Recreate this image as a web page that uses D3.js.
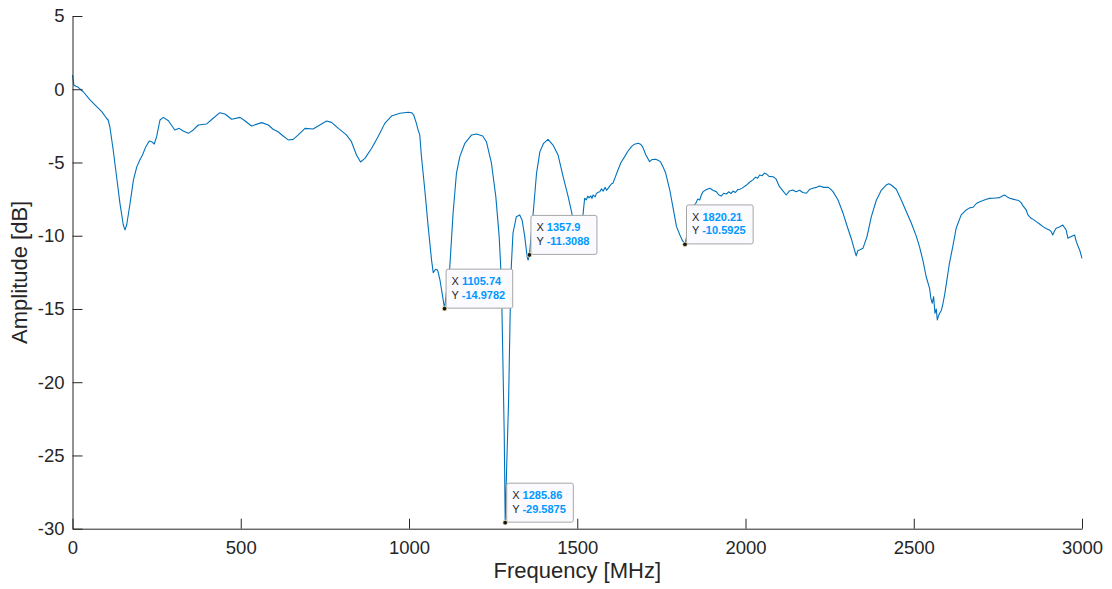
<!DOCTYPE html>
<html>
<head>
<meta charset="utf-8">
<script src="https://cdn.jsdelivr.net/npm/d3@7"></script>
<style>
  html, body { margin: 0; padding: 0; background: #ffffff; }
  svg { display: block; font-family: "Liberation Sans", Arial, Helvetica, sans-serif; }
</style>
</head>
<body>
<svg id="chart" width="1112" height="589"></svg>
<script>
// Measured frequency response (MHz, dB)
const freqMHz = [
  0, 4, 10, 17, 32, 52, 72, 87, 101, 106, 111, 121, 131, 141, 151, 156, 161, 171, 181, 191,
  200, 208, 218, 228, 235, 243, 250, 260, 270, 285, 304, 317, 329, 344, 359, 374, 399, 418, 438, 453,
  473, 498, 512, 532, 562, 582, 596, 611, 626, 641, 656, 671, 691, 715, 735, 755, 770, 790, 814, 829,
  844, 856, 869, 889, 908, 928, 948, 973, 998, 1008, 1014, 1022, 1027, 1032, 1037, 1047, 1057, 1067, 1072, 1079,
  1085, 1092, 1100, 1105.74, 1113, 1121, 1131, 1141, 1151, 1166, 1186, 1201, 1219, 1230, 1245, 1258, 1268, 1273, 1276, 1283,
  1285.86, 1290, 1296, 1301, 1304, 1309, 1319, 1329, 1336, 1344, 1351, 1354, 1357.9, 1369, 1379, 1389, 1400, 1413, 1428, 1443,
  1458, 1473, 1485, 1495, 1505, 1512, 1517, 1522, 1527, 1531, 1535, 1540, 1544, 1547, 1553, 1557, 1560, 1567, 1572, 1577,
  1583, 1587, 1590, 1597, 1602, 1606, 1613, 1621, 1630, 1641, 1650, 1661, 1670, 1681, 1688, 1694, 1704, 1715, 1722, 1733,
  1740, 1747, 1755, 1763, 1775, 1785, 1795, 1805, 1812, 1820.21, 1829, 1836, 1844, 1852, 1858, 1864, 1869, 1874, 1884, 1894,
  1903, 1913, 1920, 1928, 1935, 1943, 1950, 1957, 1963, 1970, 1977, 1983, 1990, 2003, 2012, 2022, 2030, 2036, 2042, 2050,
  2056, 2062, 2070, 2082, 2090, 2101, 2110, 2121, 2130, 2141, 2150, 2161, 2170, 2181, 2190, 2200, 2210, 2220, 2232, 2245,
  2252, 2260, 2275, 2290, 2304, 2314, 2321, 2329, 2334, 2339, 2349, 2361, 2374, 2389, 2404, 2418, 2426, 2433, 2448, 2463,
  2478, 2493, 2508, 2517, 2527, 2537, 2547, 2551, 2555, 2559, 2563, 2567, 2570, 2573, 2577, 2582, 2587, 2592, 2597, 2606,
  2616, 2626, 2641, 2656, 2666, 2676, 2686, 2696, 2706, 2716, 2725, 2735, 2745, 2755, 2762, 2770, 2778, 2785, 2795, 2805,
  2812, 2819, 2826, 2834, 2840, 2849, 2856, 2864, 2874, 2884, 2893, 2903, 2908, 2913, 2918, 2923, 2933, 2943, 2948, 2953,
  2958, 2963, 2968, 2973, 2978, 2983, 2988, 2993, 3000
];
const amplitudeDb = [
  0.97, 0.29, 0.2, 0.13, -0.17, -0.73, -1.19, -1.53, -1.98, -2.1, -2.56, -4.15, -5.97, -7.79, -9.27, -9.6, -9.27, -7.8, -6.2, -5.3,
  -4.83, -4.49, -3.92, -3.53, -3.58, -3.74, -3.24, -2.1, -1.92, -2.15, -2.78, -2.67, -2.85, -3.01, -2.78, -2.44, -2.37, -1.98, -1.6, -1.69,
  -2.05, -1.92, -2.15, -2.51, -2.28, -2.44, -2.73, -2.9, -3.19, -3.46, -3.42, -3.12, -2.67, -2.71, -2.44, -2.17, -2.26, -2.67, -3.12, -3.58,
  -4.49, -4.97, -4.72, -4.03, -3.24, -2.33, -1.83, -1.64, -1.57, -1.6, -1.76, -2.33, -2.78, -3.12, -4.6, -6.88, -9.38, -11.66, -12.52, -12.29,
  -12.34, -13.02, -14.16, -14.9782, -13.48, -12.2, -8.47, -5.74, -4.6, -3.69, -3.12, -3.05, -3.19, -3.58, -5.05, -7.33, -10.06, -12.34, -14.8, -23.5,
  -29.5875, -26, -21.2, -14.84, -12.1, -9.83, -8.7, -8.58, -8.92, -10.06, -11.43, -11.66, -11.3088, -8.47, -5.74, -4.26, -3.69, -3.42, -3.81, -4.49,
  -5.97, -7.33, -8.58, -9.4, -9.6, -9.0, -8.58, -7.44, -7.55, -7.3, -7.42, -7.28, -7.45, -7.22, -7.35, -7.12, -7.05, -7.0, -6.8, -6.95,
  -6.7, -6.9, -6.82, -6.6, -6.45, -6.42, -6.0, -5.51, -5.0, -4.6, -4.25, -3.92, -3.75, -3.69, -3.75, -3.92, -4.49, -4.94, -4.8, -4.78,
  -4.85, -4.94, -5.3, -5.74, -6.88, -8.13, -9.38, -9.95, -10.3, -10.5925, -9.61, -8.6, -8.02, -7.8, -7.5, -7.56, -7.2, -6.99, -6.85, -6.76,
  -6.9, -6.99, -7.2, -7.29, -7.1, -7.15, -7.0, -7.12, -6.95, -7.05, -6.85, -6.83, -6.75, -6.54, -6.35, -6.19, -6.0, -6.08, -5.85, -5.9,
  -5.72, -5.78, -5.95, -5.97, -6.1, -6.65, -6.9, -7.22, -6.95, -6.88, -7.0, -6.9, -7.05, -7.1, -6.85, -6.76, -6.7, -6.6, -6.7, -6.69,
  -6.8, -6.99, -7.56, -8.47, -9.49, -10.17, -10.75, -11.38, -11.0, -10.97, -10.86, -10.06, -8.7, -7.56, -6.88, -6.54, -6.45, -6.54, -6.83, -7.56,
  -8.36, -9.15, -10.06, -10.75, -11.66, -12.8, -13.59, -14.3, -14.61, -14.16, -15.29, -15.0, -15.75, -15.5, -15.29, -15.1, -14.61, -14.0, -13.25, -11.88,
  -10.75, -9.49, -8.58, -8.24, -8.1, -8.06, -7.8, -7.68, -7.6, -7.51, -7.45, -7.44, -7.42, -7.4, -7.3, -7.22, -7.35, -7.44, -7.5, -7.56,
  -7.6, -7.74, -8.0, -8.24, -8.6, -8.81, -8.9, -9.04, -9.2, -9.38, -9.5, -9.61, -9.7, -9.95, -9.7, -9.49, -9.4, -9.27, -9.45, -9.61,
  -10.17, -10.1, -10.06, -10.0, -9.95, -10.4, -10.7, -10.97, -11.54
];

// Axis ticks
const xTicks = [0, 500, 1000, 1500, 2000, 2500, 3000];
const yTicks = [5, 0, -5, -10, -15, -20, -25, -30];

// Data tips
const tipFreq = [1105.74, 1357.9, 1285.86, 1820.21];
const tipAmp = [-14.9782, -11.3088, -29.5875, -10.5925];

const svg = d3.select("#chart");
const axisColor = "#262626";
const lineColor = "#0072bd";

const x = d3.scaleLinear().domain([0, 3000]).range([72.5, 1082]);
const y = d3.scaleLinear().domain([-30, 5]).range([528.7, 16]);

// Curve
const pts = freqMHz.map((f, i) => [f, amplitudeDb[i]]);
svg.append("path")
  .datum(pts)
  .attr("fill", "none")
  .attr("stroke", lineColor)
  .attr("stroke-width", 1.1)
  .attr("stroke-linejoin", "round")
  .attr("d", d3.line().x(d => x(d[0])).y(d => y(d[1])));

// Axes (ticks pointing inward)
const fmt = d => String(d);
const xAxis = svg.append("g")
  .attr("transform", `translate(0,${y(-30)})`)
  .call(d3.axisBottom(x).tickValues(xTicks).tickFormat(fmt).tickSizeInner(-10).tickSizeOuter(0).tickPadding(18));
const yAxis = svg.append("g")
  .attr("transform", `translate(${x(0)},0)`)
  .call(d3.axisLeft(y).tickValues(yTicks).tickFormat(fmt).tickSizeInner(-10).tickSizeOuter(0).tickPadding(18));

[xAxis, yAxis].forEach(g => {
  g.select(".domain").attr("stroke", axisColor).attr("stroke-width", 1);
  g.selectAll(".tick line").attr("stroke", axisColor).attr("stroke-width", 1);
  g.selectAll(".tick text").attr("fill", axisColor).attr("font-size", "18.5px")
    .attr("font-family", "Liberation Sans, Arial, sans-serif");
});
xAxis.selectAll(".tick text").attr("y", 12).attr("dy", "0.71em");
yAxis.selectAll(".tick text").attr("x", -8);

// Axis titles
svg.append("text")
  .attr("x", (x(0) + x(3000)) / 2).attr("y", 578)
  .attr("text-anchor", "middle").attr("fill", axisColor).attr("font-size", "22px")
  .text("Frequency [MHz]");
svg.append("text")
  .attr("transform", `translate(27,${(y(5) + y(-30)) / 2}) rotate(-90)`)
  .attr("text-anchor", "middle").attr("fill", axisColor).attr("font-size", "22px")
  .text("Amplitude [dB]");

// Data tips
const tips = svg.append("g");
tipFreq.forEach((f, i) => {
  const px = x(f), py = y(tipAmp[i]);
  const g = tips.append("g");
  const box = g.append("rect")
    .attr("fill", "#fafaff").attr("stroke", "#a6a6a6").attr("stroke-width", 1)
    .attr("rx", 2).attr("ry", 2);
  const t1 = g.append("text").attr("font-size", "11px");
  t1.append("tspan").attr("fill", "#262626").text("X ");
  t1.append("tspan").attr("fill", "#0099ff").attr("font-weight", "bold").text(String(f));
  const t2 = g.append("text").attr("font-size", "11px");
  t2.append("tspan").attr("fill", "#262626").text("Y ");
  t2.append("tspan").attr("fill", "#0099ff").attr("font-weight", "bold").text(String(tipAmp[i]));
  const w = Math.max(t1.node().getComputedTextLength(), t2.node().getComputedTextLength()) + 13;
  const h = 39;
  const bx = px + 1.5, by = py - 0.5 - h;
  box.attr("x", bx).attr("y", by).attr("width", w).attr("height", h);
  t1.attr("x", bx + 5.5).attr("y", by + 16);
  t2.attr("x", bx + 5.5).attr("y", by + 29.5);
  g.append("circle").attr("cx", px).attr("cy", py).attr("r", 2.4)
    .attr("fill", "#1a1a1a").attr("stroke", "#fff8cc").attr("stroke-width", 0.8);
});
</script>
</body>
</html>
